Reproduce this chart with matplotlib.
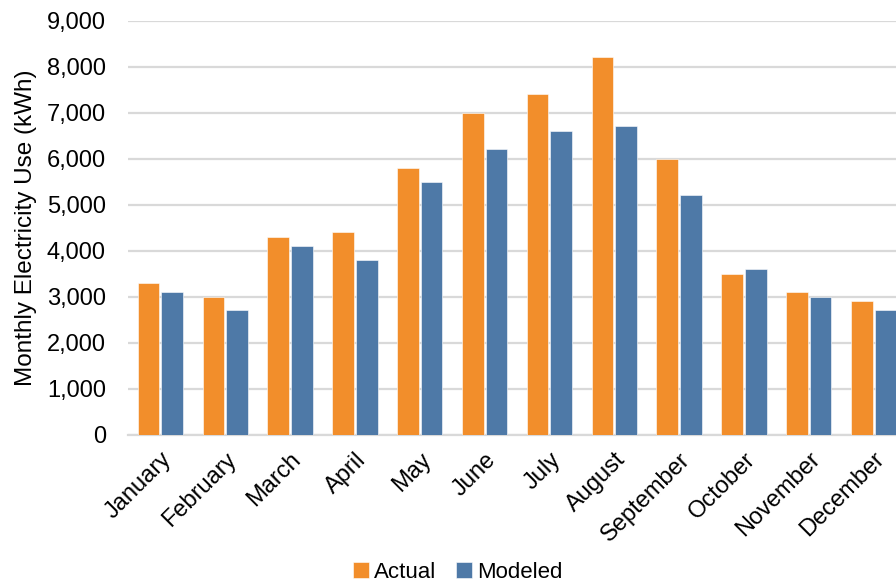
import matplotlib
matplotlib.use("Agg")
import matplotlib.pyplot as plt
from matplotlib.ticker import FuncFormatter
import numpy as np

plt.rcParams['font.family'] = ['Liberation Sans', 'DejaVu Sans']

# 月別の電力使用量 (kWh)
months = ["January", "February", "March", "April", "May", "June",
          "July", "August", "September", "October", "November", "December"]
actual = [3300, 3000, 4300, 4400, 5800, 7000, 7400, 8200, 6000, 3500, 3100, 2900]
modeled = [3100, 2700, 4100, 3800, 5500, 6200, 6600, 6700, 5200, 3600, 3000, 2700]

orange = "#F28E2B"
blue = "#4E79A7"

fig = plt.figure(figsize=(8.96, 5.86), dpi=100)
W, H = 896, 586
# 右端は図の外まで伸びる
ax = fig.add_axes([128 / W, 1 - 434.5 / H, (906 - 128) / W, (434.5 - 20.5) / H])

x = np.arange(len(months))
width = 0.335
ax.bar(x - width / 2 - 0.015, actual, width, color=orange, edgecolor="white",
       linewidth=0.4, label="Actual", zorder=3)
ax.bar(x + width / 2 + 0.015, modeled, width, color=blue, edgecolor="white",
       linewidth=0.4, label="Modeled", zorder=3)

ax.set_xlim(-0.5, len(months) - 0.5)
ax.set_ylim(0, 9000)
ax.set_yticks(np.arange(0, 9001, 1000))
ax.yaxis.set_major_formatter(FuncFormatter(lambda v, p: f"{int(v):,}"))
ax.grid(axis="y", color="#D9D9D9", linewidth=1.6, zorder=0)
for s in ["top", "right", "left"]:
    ax.spines[s].set_visible(False)
ax.spines["bottom"].set_color("#D9D9D9")
ax.spines["bottom"].set_linewidth(1.6)
ax.tick_params(axis="both", length=0, labelsize=17, colors="black")
ax.tick_params(axis="y", pad=16)

ax.set_xticks(x)
ax.set_xticklabels(months, rotation=45, ha="right", va="top",
                   rotation_mode="anchor")
ax.tick_params(axis="x", pad=10)

ax.set_ylabel("Monthly Electricity Use (kWh)", fontsize=17.5, labelpad=7)

fig.legend(loc="center", bbox_to_anchor=(458 / W, 1 - 572 / H), ncol=2,
           frameon=False, fontsize=16, handlelength=0.7, handleheight=0.7,
           handletextpad=0.25, columnspacing=0.9)

fig.savefig("out.png", dpi=100)
